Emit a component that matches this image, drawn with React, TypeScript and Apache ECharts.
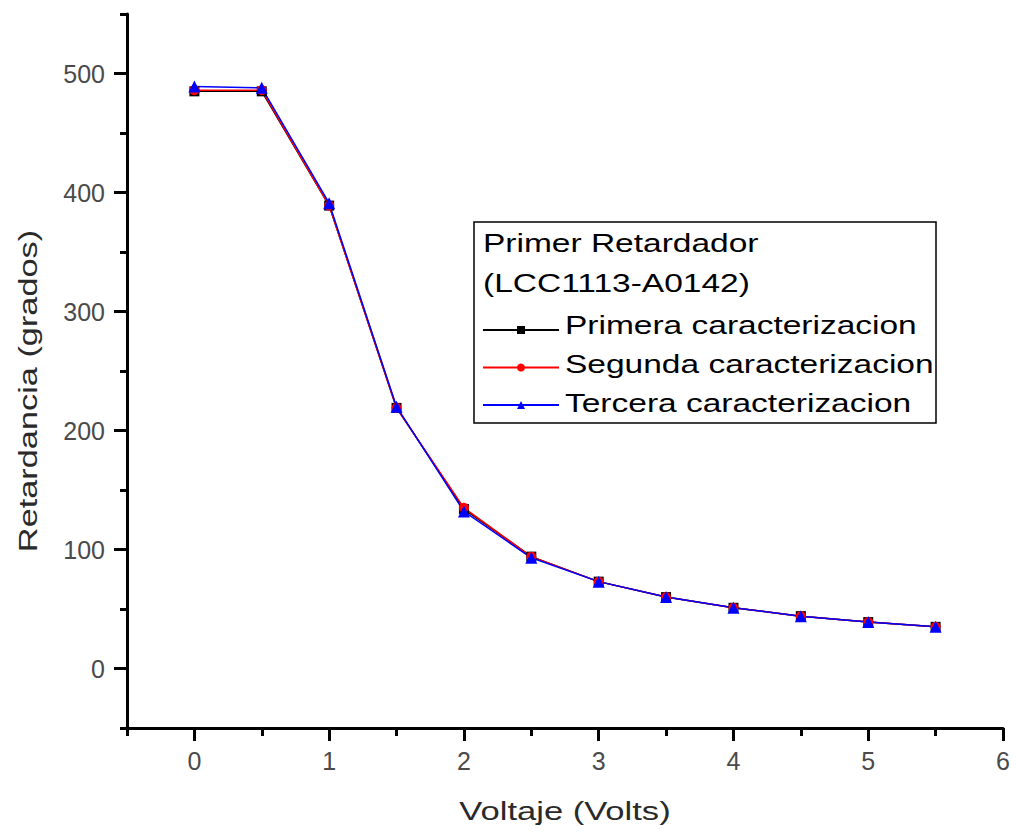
import React, { useEffect, useRef } from "react";
import * as echarts from "echarts";

const voltages = [0, 0.5, 1, 1.5, 2, 2.5, 3, 3.5, 4, 4.5, 5, 5.5];
const primera = [485, 485, 389, 219, 134, 94, 73, 60, 51, 44, 39, 35];
const segunda = [486, 486, 389, 219, 135, 94, 73, 60, 51, 44, 39, 35];
const tercera = [489, 488, 391, 220, 132, 93, 73, 60, 51, 44, 39, 35];
const seriesNames = ["Primera caracterizacion", "Segunda caracterizacion", "Tercera caracterizacion"];
const legendTitle = ["Primer Retardador", "(LCC1113-A0142)"];
const xMajorTicks = [0, 1, 2, 3, 4, 5, 6];
const xMinorTicks = [-0.5, 0.5, 1.5, 2.5, 3.5, 4.5, 5.5];
const yMajorTicks = [0, 100, 200, 300, 400, 500];
const yMinorTicks = [-50, 50, 150, 250, 350, 450, 550];
const xTitle = "Voltaje (Volts)";
const yTitle = "Retardancia (grados)";

const FONT = "'Liberation Sans', Arial, sans-serif";
const STRETCH = 1.34;

export default function App() {
  const ref = useRef<HTMLDivElement>(null);
  useEffect(() => {
    const chart = echarts.init(ref.current!, null, { renderer: "svg" });
    const mk = (ys: number[]) => voltages.map((x, i) => [x, ys[i]]);
    const defs = [
      { name: seriesNames[0], data: primera, color: "#000000", symbol: "rect", size: 10 },
      { name: seriesNames[1], data: segunda, color: "#ff0000", symbol: "circle", size: 10 },
      { name: seriesNames[2], data: tercera, color: "#0000ff", symbol: "triangle", size: 12 },
    ];
    const axisLineStyle = { color: "#000", width: 3 };
    const labelStyle = { fontFamily: FONT, fontSize: 25, color: "#4a4a4a" };
    const mainX = {
      type: "value",
      min: -0.5,
      max: 6,
      gridIndex: 0,
      axisLine: { show: true, onZero: false, lineStyle: axisLineStyle },
      axisTick: { show: true, inside: false, length: 13, lineStyle: axisLineStyle, customValues: xMajorTicks },
      axisLabel: { ...labelStyle, margin: 20, customValues: xMajorTicks },
      splitLine: { show: false },
    };
    const minorX = {
      type: "value",
      min: -0.5,
      max: 6,
      gridIndex: 0,
      position: "bottom",
      axisLine: { show: false, onZero: false },
      axisTick: { show: true, inside: false, length: 8, lineStyle: axisLineStyle, customValues: xMinorTicks },
      axisLabel: { show: false },
      splitLine: { show: false },
    };
    const mainY = {
      type: "value",
      min: -50,
      max: 550,
      gridIndex: 0,
      axisLine: { show: true, onZero: false, lineStyle: axisLineStyle },
      axisTick: { show: true, inside: false, length: 13, lineStyle: axisLineStyle, customValues: yMajorTicks },
      axisLabel: { ...labelStyle, margin: 22, customValues: yMajorTicks },
      splitLine: { show: false },
    };
    const minorY = {
      type: "value",
      min: -50,
      max: 550,
      gridIndex: 0,
      position: "left",
      axisLine: { show: false, onZero: false },
      axisTick: { show: true, inside: false, length: 7, lineStyle: axisLineStyle, customValues: yMinorTicks },
      axisLabel: { show: false },
      splitLine: { show: false },
    };
    const legendText = (text: string, x: number, y: number) => ({
      type: "text",
      x,
      y,
      scaleX: STRETCH,
      style: { text, fontFamily: FONT, fontSize: 25, fill: "#000", verticalAlign: "middle" },
      z: 11,
    });
    chart.setOption({
      animation: false,
      backgroundColor: "#ffffff",
      grid: { left: 127, right: 13, top: 14, bottom: 104, containLabel: false },
      xAxis: [mainX, minorX],
      yAxis: [mainY, minorY],
      legend: {
        left: 477,
        top: 320,
        orient: "vertical",
        itemWidth: 76,
        itemHeight: 10,
        itemGap: 28.5,
        formatter: () => "",
        textStyle: { fontSize: 10 },
        data: seriesNames,
      },
      graphic: [
        {
          type: "rect",
          shape: { x: 474, y: 222, width: 462, height: 201 },
          style: { fill: "none", stroke: "#000", lineWidth: 1.5 },
          z: 10,
        },
        legendText(legendTitle[0], 483, 243),
        legendText(legendTitle[1], 483, 283),
        legendText(seriesNames[0], 565, 325),
        legendText(seriesNames[1], 565, 364),
        legendText(seriesNames[2], 565, 403),
        {
          type: "text",
          x: 565,
          y: 811,
          scaleX: 1.33,
          style: {
            text: xTitle,
            fontFamily: FONT,
            fontSize: 26,
            fill: "#2a2a2a",
            align: "center",
            verticalAlign: "middle",
          },
          z: 11,
        },
        {
          type: "text",
          x: 28,
          y: 391,
          rotation: Math.PI / 2,
          scaleX: 1.32,
          style: {
            text: yTitle,
            fontFamily: FONT,
            fontSize: 26,
            fill: "#2a2a2a",
            align: "center",
            verticalAlign: "middle",
          },
          z: 11,
        },
      ],
      series: defs.map((d) => ({
        type: "line",
        name: d.name,
        xAxisIndex: 0,
        yAxisIndex: 0,
        data: mk(d.data),
        symbol: d.symbol,
        symbolSize: d.size,
        showSymbol: true,
        lineStyle: { color: d.color, width: 1.5 },
        itemStyle: { color: d.color },
      })),
    });
    return () => chart.dispose();
  }, []);
  return (
    <div
      ref={ref}
      style={{ position: "fixed", left: 0, top: 0, width: 1016, height: 832, background: "#fff" }}
    />
  );
}
